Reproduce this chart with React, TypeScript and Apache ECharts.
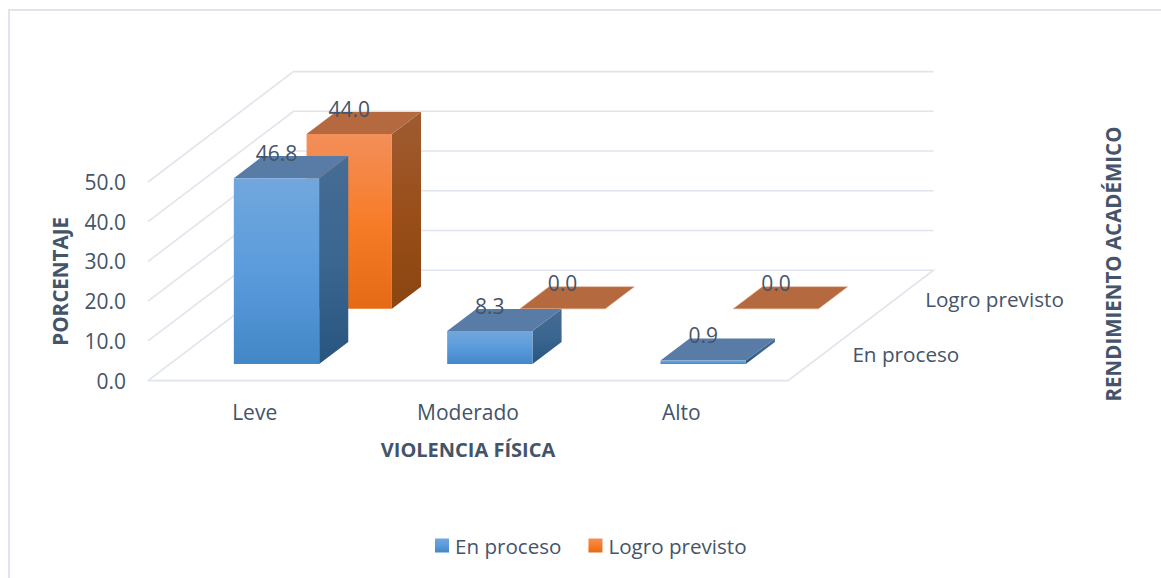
import React, { useEffect, useRef } from "react";
import * as echarts from "echarts";

const categories = ["Leve", "Moderado", "Alto"];
const seriesNames = ["En proceso", "Logro previsto"];
const enProceso = [46.8, 8.3, 0.9];
const logroPrevisto = [44.0, 0.0, 0.0];
const wallTicks = [0, 10, 20, 30, 40, 50];

const FONT = '"Open Sans"';
const TEXT = "#44546A";
const GRID = "#E0E4EC";
const DEPTH_X = 72.75;
const DEPTH_Y = -55.2;
const BAR_RATIO = 0.4;

const grad = (stops: string[]) =>
  new echarts.graphic.LinearGradient(0, 0, 0, 1, stops.map((color, i) => ({ offset: i / (stops.length - 1), color })));

const palettes = [
  {
    front: ["#72A7DD", "#5A9BDC", "#4387C7"],
    side: ["#466C94", "#3A6690", "#28557F"],
    top: "#587CA6",
    edge: "#7FAEDD",
  },
  {
    front: ["#F38F5A", "#F77C28", "#E46A16"],
    side: ["#9E5B32", "#9A4F1A", "#8A4510"],
    top: "#B5693E",
    edge: "#E9A57C",
  },
];

function project(api: any, cat: number, offset: number, value: number, z: number) {
  const p = api.coord([cat, value]);
  const band = api.size([1, 0])[0];
  return [p[0] + offset * band + z * DEPTH_X, p[1] + z * DEPTH_Y];
}

function barRenderer(seriesIndex: number) {
  const pal = palettes[seriesIndex];
  return (_: any, api: any) => {
    const cat = api.value(0);
    const v = api.value(1);
    const h = BAR_RATIO / 2;
    const z0 = seriesIndex + 0.3;
    const z1 = seriesIndex + 0.7;
    const P = (o: number, val: number, z: number) => project(api, cat, o, val, z);
    const poly = (points: number[][], style: any) => ({ type: "polygon", shape: { points }, style });
    const c = P(0, v, z0);
    return {
      type: "group",
      children: [
        poly([P(h, 0, z0), P(h, 0, z1), P(h, v, z1), P(h, v, z0)], { fill: grad(pal.side) }),
        poly([P(-h, v, z0), P(h, v, z0), P(h, v, z1), P(-h, v, z1)], { fill: pal.top, stroke: pal.edge, lineWidth: v === 0 ? 0.5 : 0 }),
        poly([P(-h, 0, z0), P(h, 0, z0), P(h, v, z0), P(-h, v, z0)], { fill: grad(pal.front) }),
        {
          type: "text",
          z2: 20,
          style: {
            x: c[0],
            y: c[1] - 25.5,
            text: v.toFixed(1),
            fill: TEXT,
            font: `21px ${FONT}`,
            align: "center",
            verticalAlign: "middle",
          },
        },
      ],
    };
  };
}

function wallRenderer(_: any, api: any) {
  const v = api.value(1);
  const last = categories.length - 1;
  const points = [project(api, 0, -0.5, v, 0), project(api, 0, -0.5, v, 2), project(api, last, 0.5, v, 2)];
  if (v === 0) points.push(project(api, last, 0.5, v, 0), project(api, 0, -0.5, v, 0));
  return { type: "polyline", shape: { points }, style: { stroke: GRID, lineWidth: 1.6, fill: "none" } };
}

function depthLabelRenderer(_: any, api: any) {
  const i = api.value(0);
  const p = project(api, categories.length - 1, 0.5, 0, i + 0.5);
  return {
    type: "text",
    style: {
      x: p[0] + 28,
      y: p[1] + 1,
      text: seriesNames[i],
      fill: TEXT,
      font: `20.7px ${FONT}`,
      align: "left",
      verticalAlign: "middle",
    },
  };
}

export default function App() {
  const ref = useRef<HTMLDivElement>(null);
  useEffect(() => {
    const chart = echarts.init(ref.current!, undefined, { renderer: "svg" });
    chart.setOption({
      animation: false,
      backgroundColor: "#FFFFFF",
      grid: { left: 148, top: 182, width: 640, height: 198.6 },
      xAxis: {
        type: "category",
        data: categories,
        axisLine: { show: false },
        axisTick: { show: false },
        axisLabel: { color: TEXT, fontFamily: FONT, fontSize: 21, margin: 21 },
        name: "VIOLENCIA FÍSICA",
        nameLocation: "middle",
        nameGap: 59,
        nameTextStyle: { color: TEXT, fontFamily: FONT, fontSize: 20, fontWeight: "bold" },
      },
      yAxis: {
        type: "value",
        min: 0,
        max: 50,
        interval: 10,
        splitLine: { show: false },
        axisLine: { show: false },
        axisTick: { show: false },
        axisLabel: { color: TEXT, fontFamily: FONT, fontSize: 21, margin: 22, formatter: (v: number) => v.toFixed(1) },
        name: "PORCENTAJE",
        nameLocation: "middle",
        nameRotate: 90,
        nameGap: 78,
        nameTextStyle: { color: TEXT, fontFamily: FONT, fontSize: 20.6, fontWeight: "bold" },
      },
      legend: {
        left: 435,
        top: 535,
        padding: 0,
        icon: "rect",
        itemWidth: 14,
        itemHeight: 14,
        itemGap: 27,
        data: seriesNames,
        selectedMode: false,
        textStyle: { color: TEXT, fontFamily: FONT, fontSize: 20.6, padding: [0, 0, 3, 1] },
      },
      graphic: [
        {
          type: "polyline",
          silent: true,
          shape: { points: [[1161, 10], [9, 10], [9, 578]] },
          style: { stroke: GRID, lineWidth: 2, fill: "none" },
        },
        {
          type: "text",
          x: 1113,
          y: 264,
          rotation: Math.PI / 2,
          style: {
            text: "RENDIMIENTO ACADÉMICO",
            fill: TEXT,
            font: `bold 20.5px ${FONT}`,
            align: "center",
            verticalAlign: "middle",
          },
        },
      ],
      series: [
        {
          type: "custom",
          name: "wall",
          z: 1,
          renderItem: wallRenderer,
          encode: { x: 0, y: 1 },
          data: wallTicks.map((t) => [0, t]),
          silent: true,
        },
        {
          type: "custom",
          name: "depth",
          z: 1,
          renderItem: depthLabelRenderer,
          encode: { x: 0, y: 1 },
          data: seriesNames.map((_, i) => [i, 0]),
          silent: true,
        },
        {
          type: "custom",
          name: seriesNames[1],
          z: 3,
          renderItem: barRenderer(1),
          encode: { x: 0, y: 1 },
          itemStyle: { color: grad(palettes[1].front) },
          data: logroPrevisto.map((v, i) => [i, v]),
        },
        {
          type: "custom",
          name: seriesNames[0],
          z: 4,
          renderItem: barRenderer(0),
          encode: { x: 0, y: 1 },
          itemStyle: { color: grad(palettes[0].front) },
          data: enProceso.map((v, i) => [i, v]),
        },
      ],
    });
    return () => chart.dispose();
  }, []);
  return (
    <div
      ref={ref}
      style={{ position: "absolute", left: 0, top: 0, width: 1161, height: 578, overflow: "hidden" }}
    />
  );
}
